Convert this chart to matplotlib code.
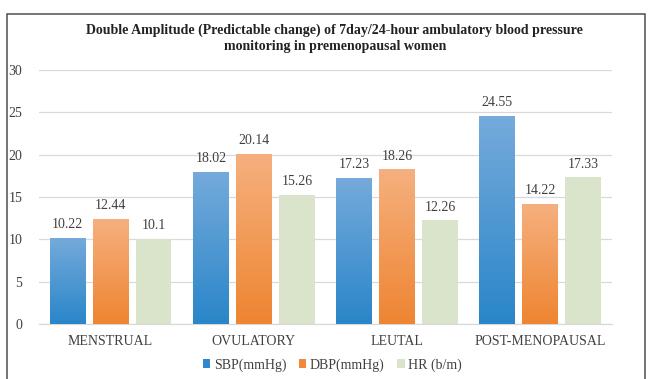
import numpy as np
import matplotlib.pyplot as plt
from matplotlib.patches import Rectangle

plt.rcParams['font.family'] = ['Liberation Serif', 'DejaVu Serif']

categories = ['MENSTRUAL', 'OVULATORY', 'LEUTAL', 'POST-MENOPAUSAL']
series_names = ['SBP(mmHg)', 'DBP(mmHg)', 'HR (b/m)']
sbp = [10.22, 18.02, 17.23, 24.55]
dbp = [12.44, 20.14, 18.26, 14.22]
hr = [10.1, 15.26, 12.26, 17.33]
labels_sbp = ['10.22', '18.02', '17.23', '24.55']
labels_dbp = ['12.44', '20.14', '18.26', '14.22']
labels_hr = ['10.1', '15.26', '12.26', '17.33']

# gradient top -> bottom colours, None = flat
grads = [('#75aadb', '#2a86c9'), ('#f6b07e', '#ee8532'), None]
flat = ['#2e88c9', '#ef8a3c', '#d9e4cb']

fig = plt.figure(figsize=(6.49, 3.79), dpi=100)
ax = fig.add_axes([0.060, 0.145, 0.883, 0.670])

x = np.arange(len(categories))
w = 0.25
step = 0.30
for i, (vals, labs) in enumerate(zip([sbp, dbp, hr], [labels_sbp, labels_dbp, labels_hr])):
    bars = ax.bar(x + (i - 1) * step, vals, w, color=flat[i], label=series_names[i], zorder=2)
    for b, lab in zip(bars, labs):
        if grads[i] is not None:
            c1 = np.array(plt.matplotlib.colors.to_rgb(grads[i][0]))
            c2 = np.array(plt.matplotlib.colors.to_rgb(grads[i][1]))
            t = np.linspace(0, 1, 64)[:, None]
            img = (c1 * (1 - t) + c2 * t)[:, None, :]
            x0, h = b.get_x(), b.get_height()
            im = ax.imshow(img, extent=[x0, x0 + b.get_width(), 0, h], aspect='auto',
                           origin='upper', zorder=3)
            im.set_clip_path(b)
        ax.text(b.get_x() + b.get_width() / 2, b.get_height() + 0.8, lab,
                ha='center', va='bottom', fontsize=10, color='#404040')

ax.set_xlim(-0.5, 3.5)
ax.set_ylim(0, 30)
ax.set_yticks(range(0, 31, 5))
ax.set_xticks(x)
ax.set_xticklabels(categories)
ax.tick_params(axis='both', length=0, labelsize=10, labelcolor='#404040')
ax.tick_params(axis='x', pad=8)
ax.tick_params(axis='y', pad=12)
ax.grid(axis='y', color='#d9d9d9', linewidth=0.9, zorder=0)
for s in ['top', 'right', 'left']:
    ax.spines[s].set_visible(False)
ax.spines['bottom'].set_color('#d9d9d9')
ax.spines['bottom'].set_linewidth(0.9)

fig.text(0.516, 0.898, 'Double Amplitude (Predictable change) of 7day/24-hour ambulatory blood pressure\nmonitoring in premenopausal women',
         ha='center', va='center', fontsize=10, fontweight='bold', color='#222222', linespacing=1.3)

leg = fig.legend(loc='center', bbox_to_anchor=(0.512, 0.037), ncol=3, frameon=False,
                 fontsize=10, handlelength=0.55, handleheight=0.55, handletextpad=0.25,
                 columnspacing=0.9, labelcolor='#404040')

fig.patches.append(Rectangle((0.0108, -0.1), 0.983, 1.063, transform=fig.transFigure,
                             fill=False, edgecolor='#505050', linewidth=1.1))

fig.savefig('out.png', dpi=100)
